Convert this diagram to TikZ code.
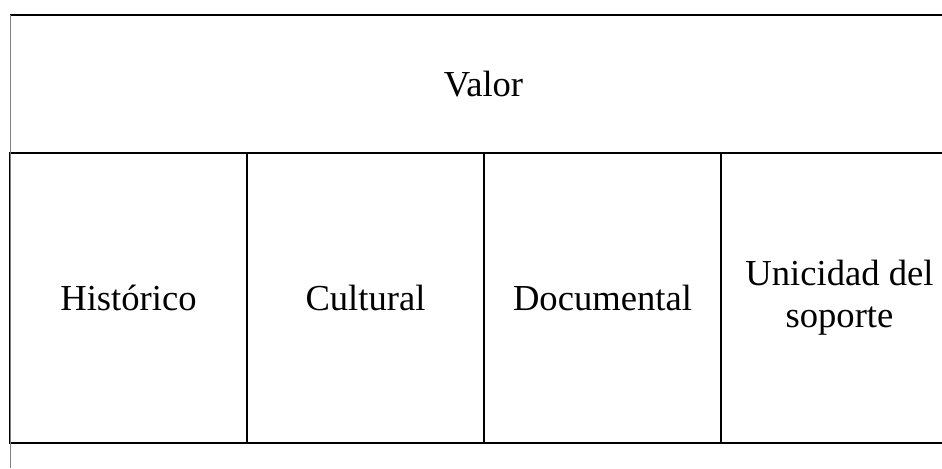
\documentclass[tikz,border=0pt]{standalone}
\usepackage{fontspec}
\setmainfont{Liberation Serif}
\usepackage{tikz}
\usetikzlibrary{positioning}

\begin{document}
\begin{tikzpicture}
  [
    x=0.5pt, y=-0.5pt,
    every node/.style={font=\fontsize{18.3}{21}\selectfont},
    cell/.style={draw=black, line width=1pt, minimum width=118.5pt,
    minimum height=145pt, inner sep=0pt, outer sep=0pt, align=center},
    head/.style={minimum width=473.5pt, minimum height=69pt, inner sep=0pt, outer sep=0pt}
  ]
  \clip (0,0) rectangle (942,468);
  \useasboundingbox (0,0) rectangle (942,468);

  \node (valor) at (483.5, 84) [head] {Valor};

  \node (c1) at (128.5,298) [cell] {Histórico};
  \node (c2) at (365.5,298) [cell] {Cultural};
  \node (c3) at (602.5,298) [cell] {Documental};
  \node (c4) at (839.5,298) [cell] {Unicidad del\\soporte};

  \coordinate (lb) at (10,468);
  \draw [line width=1pt] (valor.north west) -- (valor.north east);
  \draw [gray, line width=0.5pt] (valor.north west) -- (lb);
\end{tikzpicture}
\end{document}
